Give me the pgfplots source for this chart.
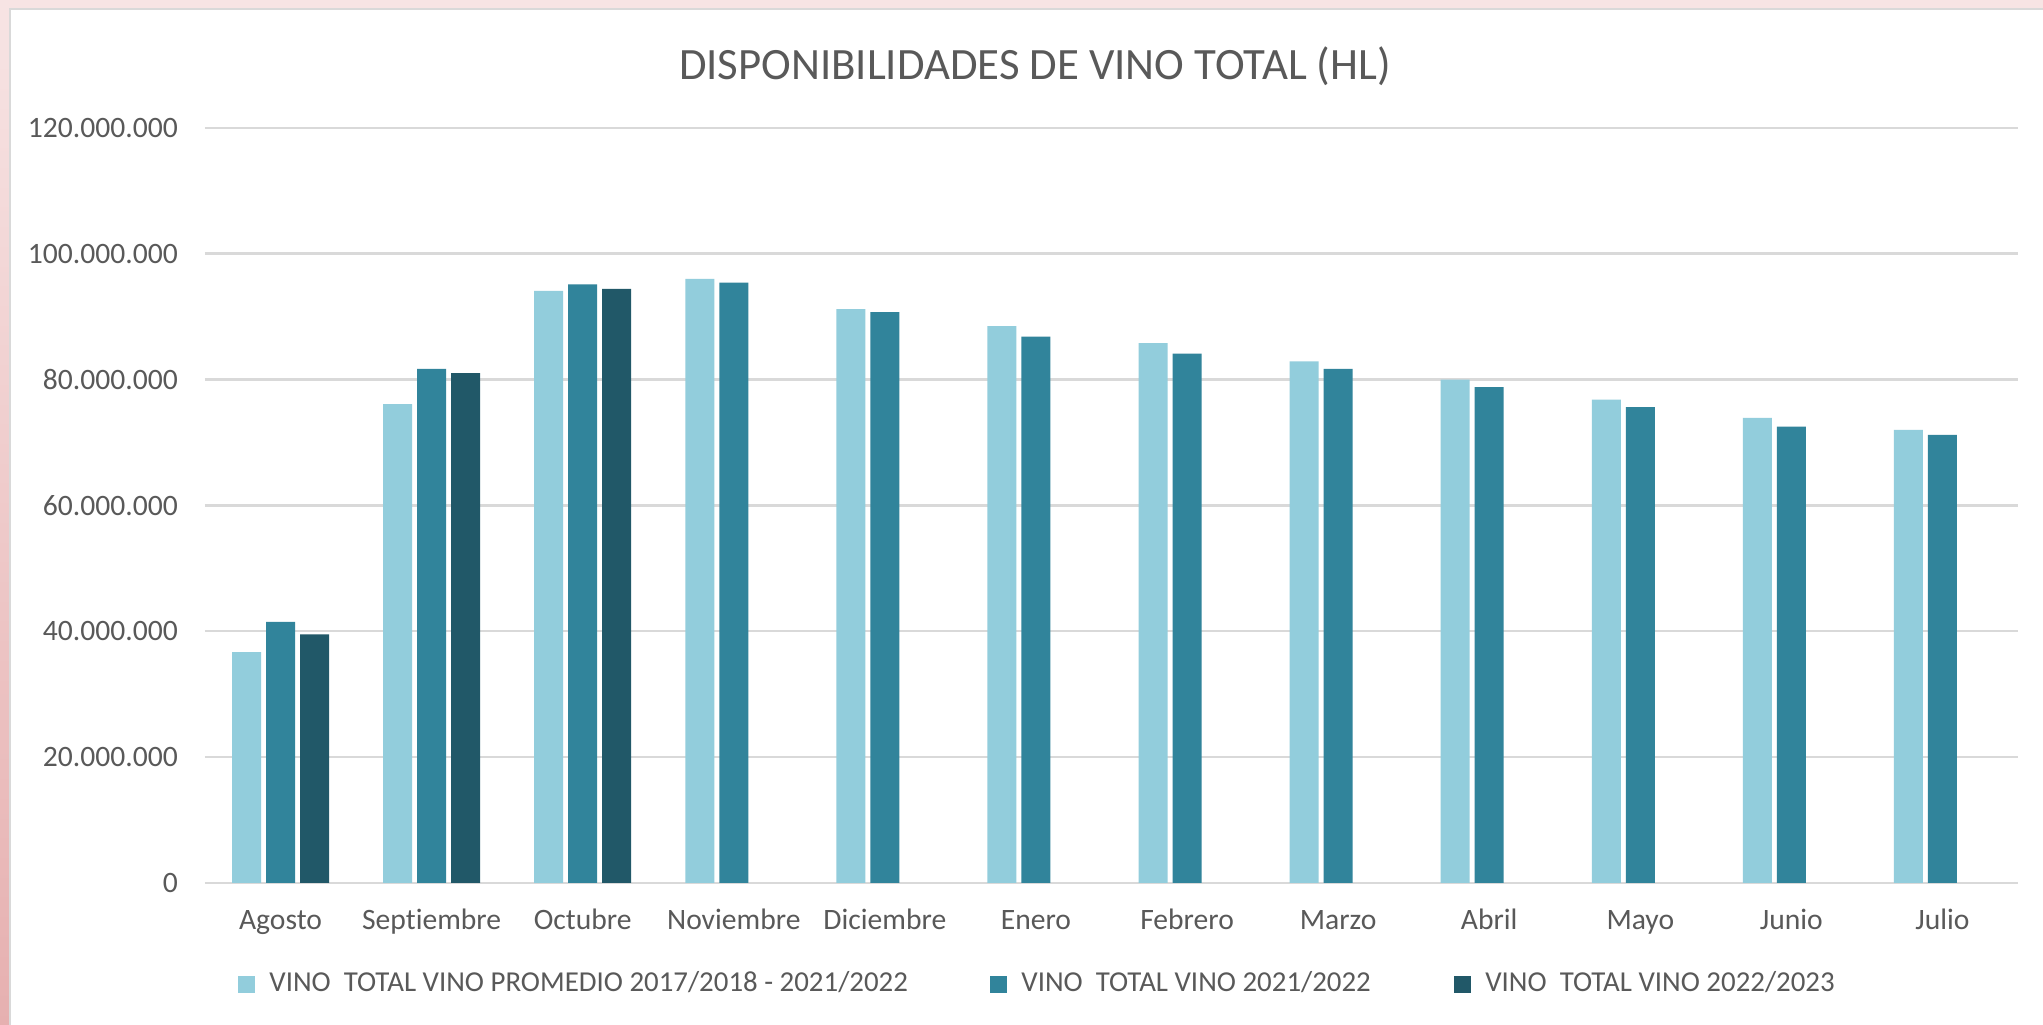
\documentclass[border=0pt]{standalone}
\usepackage{pgfplots}
\pgfplotsset{compat=1.18}
\usepackage{fontspec}
\setmainfont{Carlito}[Ligatures={NoCommon}]
\definecolor{cA}{HTML}{92CDDC}
\definecolor{cB}{HTML}{31849B}
\definecolor{cC}{HTML}{215868}
\definecolor{txt}{HTML}{595959}
\definecolor{gridc}{HTML}{D9D9D9}
\definecolor{pinkA}{HTML}{F7E4E4}
\definecolor{pinkB}{HTML}{E6B0B0}
\begin{document}
\begin{tikzpicture}
\path[use as bounding box] (-51.25pt,-35.5pt) rectangle (459.5pt,220.75pt);
\shade[top color=pinkA, bottom color=pinkB] (-51.25pt,-35.5pt) rectangle (459.5pt,220.75pt);
\fill[white] (-48.75pt,-35.5pt) rectangle (459.5pt,218.5pt);
\draw[gridc, line width=0.5pt] (-48.75pt,-35.5pt) -- (-48.75pt,218.5pt) -- (459.5pt,218.5pt);
\begin{axis}[
  at={(0pt,0pt)}, anchor=south west,
  width=453.25pt, height=188.8pt, scale only axis,
  ybar=1.25pt, bar width=7.25pt,
  xmin=-0.5, xmax=11.5, ymin=0, ymax=120000000,
  xtick={0,1,2,3,4,5,6,7,8,9,10,11},
  xticklabels={Agosto,Septiembre,Octubre,Noviembre,Diciembre,Enero,Febrero,Marzo,Abril,Mayo,Junio,Julio},
  ytick={0,20000000,40000000,60000000,80000000,100000000,120000000},
  scaled y ticks=false,
  major tick length=0pt,
  axis line style={draw=none},
  ymajorgrids, grid style={gridc, line width=0.6pt},
  xticklabel style={anchor=base, inner sep=0pt, yshift=-11.75pt, font=\fontsize{7.4}{9}\selectfont, text=txt},
  yticklabel style={anchor=east, inner sep=0pt, xshift=-6.6pt, font=\fontsize{7.4}{9}\selectfont, text=txt,
    /pgf/number format/.cd, fixed, precision=0, 1000 sep={.}, assume math mode=true},
  legend columns=3,
  legend image code/.code={\fill[#1] (0pt,-2.125pt) rectangle (4.25pt,2.125pt);},
  legend style={at={(axis description cs:0.0182,-0.135)}, anchor=west, draw=none, fill=none,
    inner sep=0pt, outer sep=0pt, font=\fontsize{7.22}{9}\selectfont, text=txt,
    nodes={inner sep=0pt},
    /tikz/every odd column/.append style={column sep=3.6pt},
    /tikz/column 2/.append style={column sep=20.5pt},
    /tikz/column 4/.append style={column sep=20.75pt}},
]
\addplot[fill=cA, draw=none] coordinates {
  (0,36700000) (1,76100000) (2,94100000) (3,96000000) (4,91200000) (5,88500000)
  (6,85800000) (7,82900000) (8,80000000) (9,76800000) (10,73900000) (11,72000000)};
\addplot[fill=cB, draw=none] coordinates {
  (0,41500000) (1,81700000) (2,95100000) (3,95400000) (4,90700000) (5,86800000)
  (6,84100000) (7,81700000) (8,78800000) (9,75600000) (10,72500000) (11,71200000)};
\addplot[fill=cC, draw=none] coordinates {
  (0,39500000) (1,81000000) (2,94400000)};
\legend{VINO\ \ TOTAL VINO PROMEDIO 2017/2018 - 2021/2022, VINO\ \ TOTAL VINO 2021/2022, VINO\ \ TOTAL VINO 2022/2023}
\end{axis}
\node[text=txt, font=\fontsize{11.2}{13}\selectfont, inner sep=0pt] at (207.5pt,204.3pt) {DISPONIBILIDADES DE VINO TOTAL (HL)};
\end{tikzpicture}
\end{document}
